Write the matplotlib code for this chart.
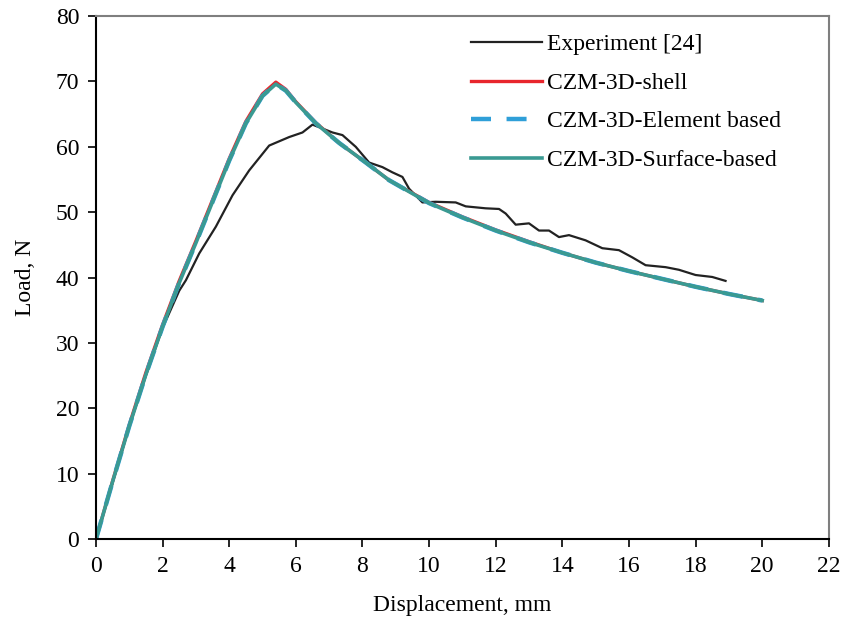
import matplotlib.pyplot as plt

# displacement (mm) / load (N)
exp_x = [0, 0.5, 1.0, 1.5, 2.0, 2.5, 2.7, 3.1, 3.6, 4.1, 4.6, 5.2, 5.8, 6.2, 6.5, 6.8,
         7.1, 7.4, 7.8, 8.2, 8.6, 8.9, 9.2, 9.4, 9.8, 10.2, 10.8, 11.1, 11.7, 12.1, 12.3,
         12.6, 13.0, 13.3, 13.6, 13.9, 14.2, 14.7, 15.2, 15.7, 16.1, 16.5, 17.1, 17.5,
         18.0, 18.5, 18.9]
exp_y = [0, 8.6, 17.2, 25.0, 32.3, 38.0, 39.6, 43.7, 47.8, 52.6, 56.4, 60.2, 61.5, 62.2,
         63.4, 62.8, 62.2, 61.8, 60.0, 57.6, 56.9, 56.1, 55.4, 53.6, 51.5, 51.6, 51.5,
         50.9, 50.6, 50.5, 49.8, 48.1, 48.3, 47.2, 47.2, 46.2, 46.5, 45.7, 44.5, 44.2,
         43.1, 41.9, 41.6, 41.2, 40.4, 40.1, 39.5]

czm_x = [0, 0.5, 1.0, 1.5, 2.0, 2.5, 3.0, 3.5, 4.0, 4.5, 5.0, 5.4, 5.7, 6.0, 6.6, 7.3,
         8.1, 8.8, 10.0, 11.0, 12.0, 13.0, 14.0, 15.0, 16.0, 17.0, 18.0, 19.0, 20.0]
shell_y = [0, 8.9, 17.5, 25.5, 32.8, 39.5, 45.6, 51.9, 58.2, 63.9, 68.1, 69.9, 68.8,
           66.9, 63.7, 60.6, 57.6, 54.9, 51.5, 49.3, 47.3, 45.5, 43.8, 42.3, 41.0, 39.8,
           38.6, 37.5, 36.5]
element_y = [0, 8.8, 17.3, 25.2, 32.5, 39.2, 45.3, 51.6, 57.9, 63.6, 67.8, 69.6, 68.6,
             66.8, 63.6, 60.6, 57.6, 54.9, 51.4, 49.2, 47.2, 45.4, 43.8, 42.3, 41.0, 39.8,
             38.6, 37.5, 36.5]
surface_y = [0, 8.8, 17.3, 25.2, 32.5, 39.2, 45.3, 51.6, 57.9, 63.6, 67.8, 69.6, 68.6,
             66.8, 63.6, 60.6, 57.6, 54.9, 51.4, 49.2, 47.2, 45.4, 43.8, 42.3, 41.0, 39.8,
             38.6, 37.5, 36.5]

x_ticks = list(range(0, 23, 2))
y_ticks = list(range(0, 81, 10))

plt.rcParams["font.family"] = ["Liberation Serif", "DejaVu Serif"]
plt.rcParams["font.size"] = 17

fig = plt.figure(figsize=(8.44, 6.19), dpi=100)
ax = fig.add_axes([0.1137, 0.129, 0.8683, 0.845])

ax.plot(exp_x, exp_y, color="#222222", lw=1.6, label="Experiment [24]")
ax.plot(czm_x, shell_y, color="#e8262c", lw=2.4, label="CZM-3D-shell")
ax.plot(czm_x, element_y, color="#2f9fd8", lw=3.2, ls=(0, (4.5, 3.5)),
        label="CZM-3D-Element based")
ax.plot(czm_x, surface_y, color="#3a9a92", lw=2.6, label="CZM-3D-Surface-based")

ax.set_xlim(0, 22)
ax.set_ylim(0, 80)
ax.set_xticks(x_ticks)
ax.set_yticks(y_ticks)
ax.set_xlabel("Displacement, mm", labelpad=13)
ax.set_ylabel("Load, N", labelpad=14)

for side in ["left", "bottom"]:
    ax.spines[side].set_color("black")
    ax.spines[side].set_linewidth(1.5)
for side in ["top", "right"]:
    ax.spines[side].set_color("#7f7f7f")
    ax.spines[side].set_linewidth(1.5)
ax.tick_params(direction="out", length=6, width=1.2, pad=6)

ax.legend(loc="upper left", bbox_to_anchor=(0.512, 0.966), frameon=False,
          handlelength=3.0, handletextpad=0.2, labelspacing=0.72,
          borderpad=0, borderaxespad=0)

fig.savefig("out.png", dpi=100)
